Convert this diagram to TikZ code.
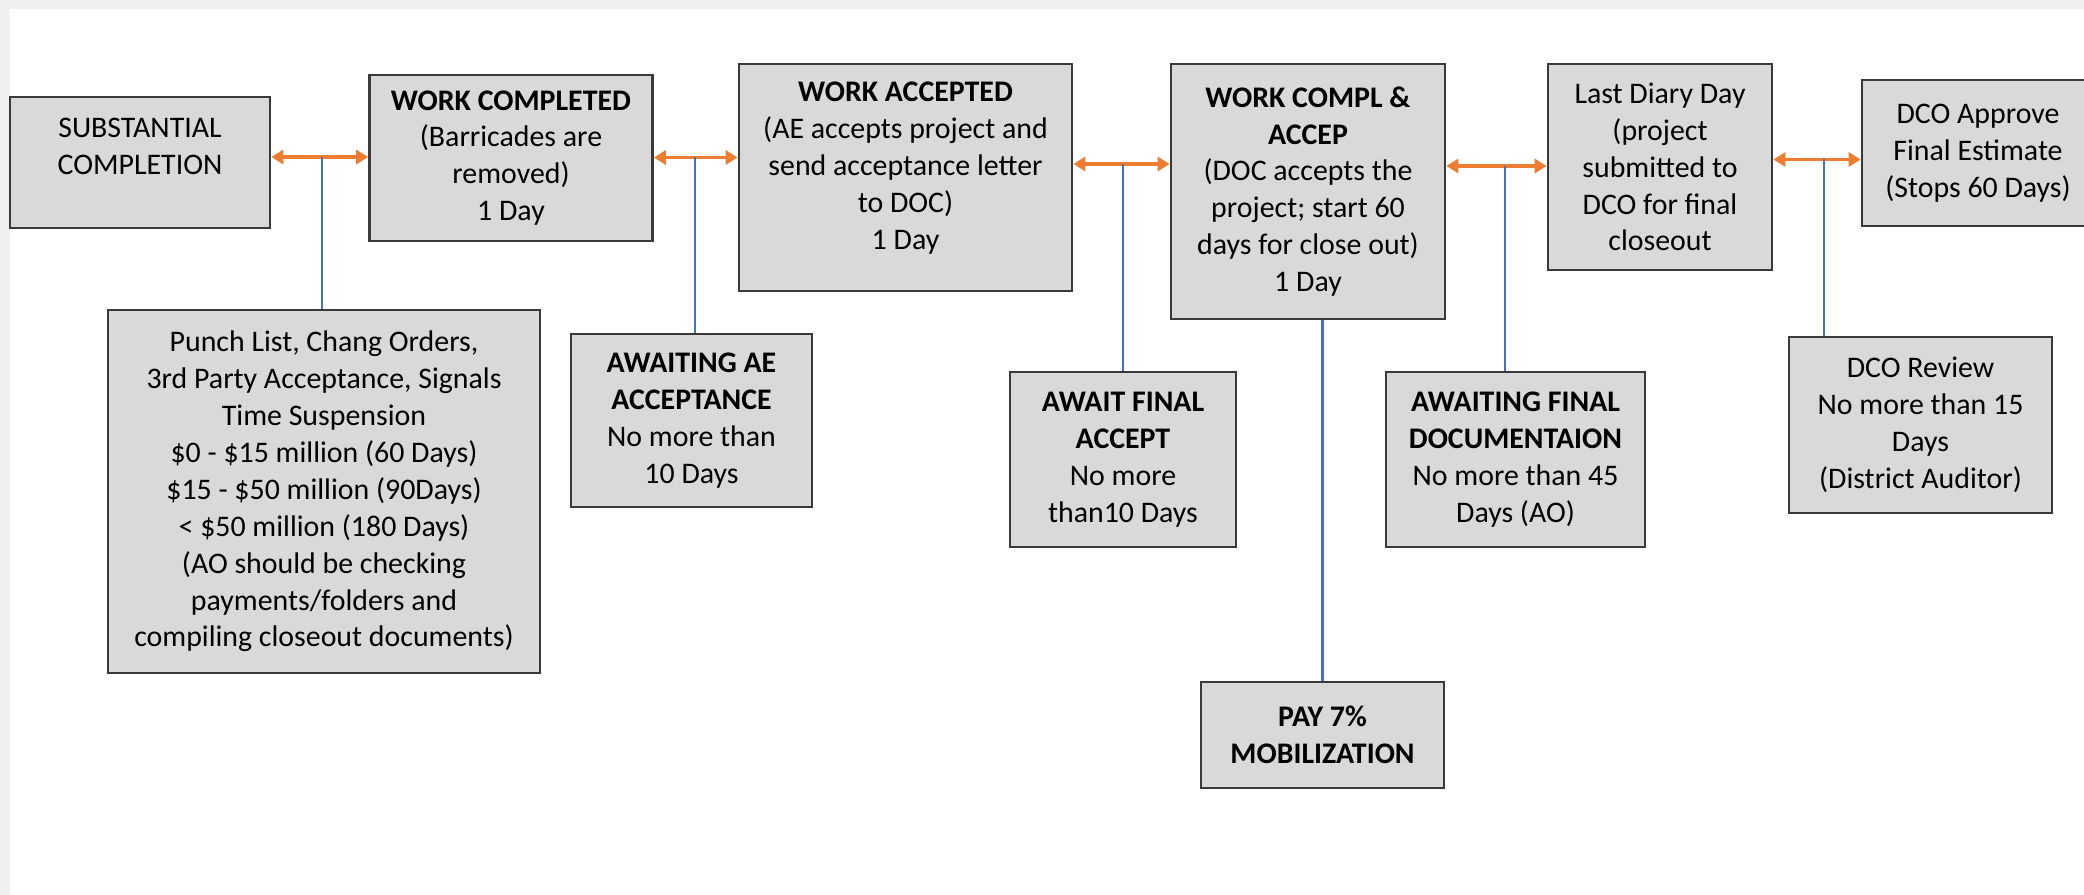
\documentclass[tikz,border=0pt]{standalone}
\usepackage{fontspec}
\setmainfont{Carlito}
\usetikzlibrary{arrows.meta}
\definecolor{boxgray}{HTML}{D9D9D9}
\definecolor{edgegray}{HTML}{3A3A3A}
\definecolor{framegray}{HTML}{F0F0F0}
\definecolor{linkorange}{HTML}{ED7D31}
\definecolor{dropblue}{HTML}{4472C4}
\begin{document}
\begin{tikzpicture}[
    stagebox/.style={draw=edgegray, line width=0.8pt, fill=boxgray, inner sep=0pt,
                     align=center, font=\fontsize{8.5}{10.5}\selectfont},
    link/.style={linkorange, line width=1.1pt,
                 {Triangle[length=3.4pt,width=4pt]}-{Triangle[length=3.4pt,width=4pt]}},
    drop/.style={dropblue, line width=0.7pt}
]
    % Page and frame
    \useasboundingbox (0,0) rectangle (20.84,-8.95);
    \fill[framegray] (0,0) rectangle (20.84,-0.09);
    \fill[framegray] (0,0) rectangle (0.10,-8.95);

    % Top row of stages
    \node[stagebox, minimum width=2.60cm, minimum height=1.31cm, text depth=0.32cm] (subst) at (1.40,-1.625)
        {SUBSTANTIAL\\COMPLETION};
    \node[stagebox, minimum width=2.83cm, minimum height=1.66cm] (workdone) at (5.11,-1.58)
        {\textbf{WORK COMPLETED}\\(Barricades are\\removed)\\1 Day};
    \node[stagebox, minimum width=3.33cm, minimum height=2.27cm, text depth=0.24cm] (workacc) at (9.055,-1.775)
        {\textbf{WORK ACCEPTED}\\(AE accepts project and\\send acceptance letter\\to DOC)\\1 Day};
    \node[stagebox, minimum width=2.74cm, minimum height=2.55cm] (workcompl) at (13.08,-1.915)
        {\textbf{WORK COMPL \&}\\\textbf{ACCEP}\\(DOC accepts the\\project; start 60\\days for close out)\\1 Day};
    \node[stagebox, minimum width=2.24cm, minimum height=2.06cm] (lastdiary) at (16.60,-1.67)
        {Last Diary Day\\(project\\submitted to\\DCO for final\\closeout};
    \node[stagebox, minimum width=2.32cm, minimum height=1.46cm] (dcoapprove) at (19.78,-1.53)
        {DCO Approve\\Final Estimate\\(Stops 60 Days)};

    % Waiting periods below
    \node[stagebox, minimum width=4.32cm, minimum height=3.63cm] (punch) at (3.24,-4.915)
        {Punch List, Chang Orders,\\3rd Party Acceptance, Signals\\Time Suspension\\
         \$0 - \$15 million (60 Days)\\\$15 - \$50 million (90Days)\\< \$50 million (180 Days)\\
         (AO should be checking\\payments/folders and\\compiling closeout documents)};
    \node[stagebox, minimum width=2.41cm, minimum height=1.73cm] (aeaccept) at (6.915,-4.205)
        {\textbf{AWAITING AE}\\\textbf{ACCEPTANCE}\\No more than\\10 Days};
    \node[stagebox, minimum width=2.26cm, minimum height=1.75cm] (finalaccept) at (11.23,-4.595)
        {\textbf{AWAIT FINAL}\\\textbf{ACCEPT}\\No more\\than10 Days};
    \node[stagebox, minimum width=2.59cm, minimum height=1.75cm] (finaldoc) at (15.155,-4.595)
        {\textbf{AWAITING FINAL}\\\textbf{DOCUMENTAION}\\No more than 45\\Days (AO)};
    \node[stagebox, minimum width=2.63cm, minimum height=1.76cm] (dcoreview) at (19.205,-4.25)
        {DCO Review\\No more than 15\\Days\\(District Auditor)};
    \node[stagebox, minimum width=2.43cm, minimum height=1.06cm] (pay) at (13.225,-7.35)
        {\textbf{PAY 7\%}\\\textbf{MOBILIZATION}};

    % Points where the blue lines leave the arrows
    \coordinate (a1) at (3.22,-1.57);
    \coordinate (a2) at (6.95,-1.575);
    \coordinate (a3) at (11.23,-1.64);
    \coordinate (a4) at (15.05,-1.66);
    \coordinate (a5) at (18.24,-1.595);

    % Orange arrows between stages
    \draw[link] (subst.east |- a1) -- (workdone.west |- a1);
    \draw[link] (workdone.east |- a2) -- (workacc.west |- a2);
    \draw[link] (workacc.east |- a3) -- (workcompl.west |- a3);
    \draw[link] (workcompl.east |- a4) -- (lastdiary.west |- a4);
    \draw[link] (lastdiary.east |- a5) -- (dcoapprove.west |- a5);

    % Blue drop lines
    \draw[drop] (a1) -- (a1 |- punch.north);
    \draw[drop] (a2) -- (a2 |- aeaccept.north);
    \draw[drop] (a3) -- (a3 |- finalaccept.north);
    \draw[drop] (a4) -- (a4 |- finaldoc.north);
    \draw[drop] (a5) -- (a5 |- dcoreview.north);
    \draw[drop] (workcompl.south -| pay.north) -- (pay.north);
\end{tikzpicture}
\end{document}
